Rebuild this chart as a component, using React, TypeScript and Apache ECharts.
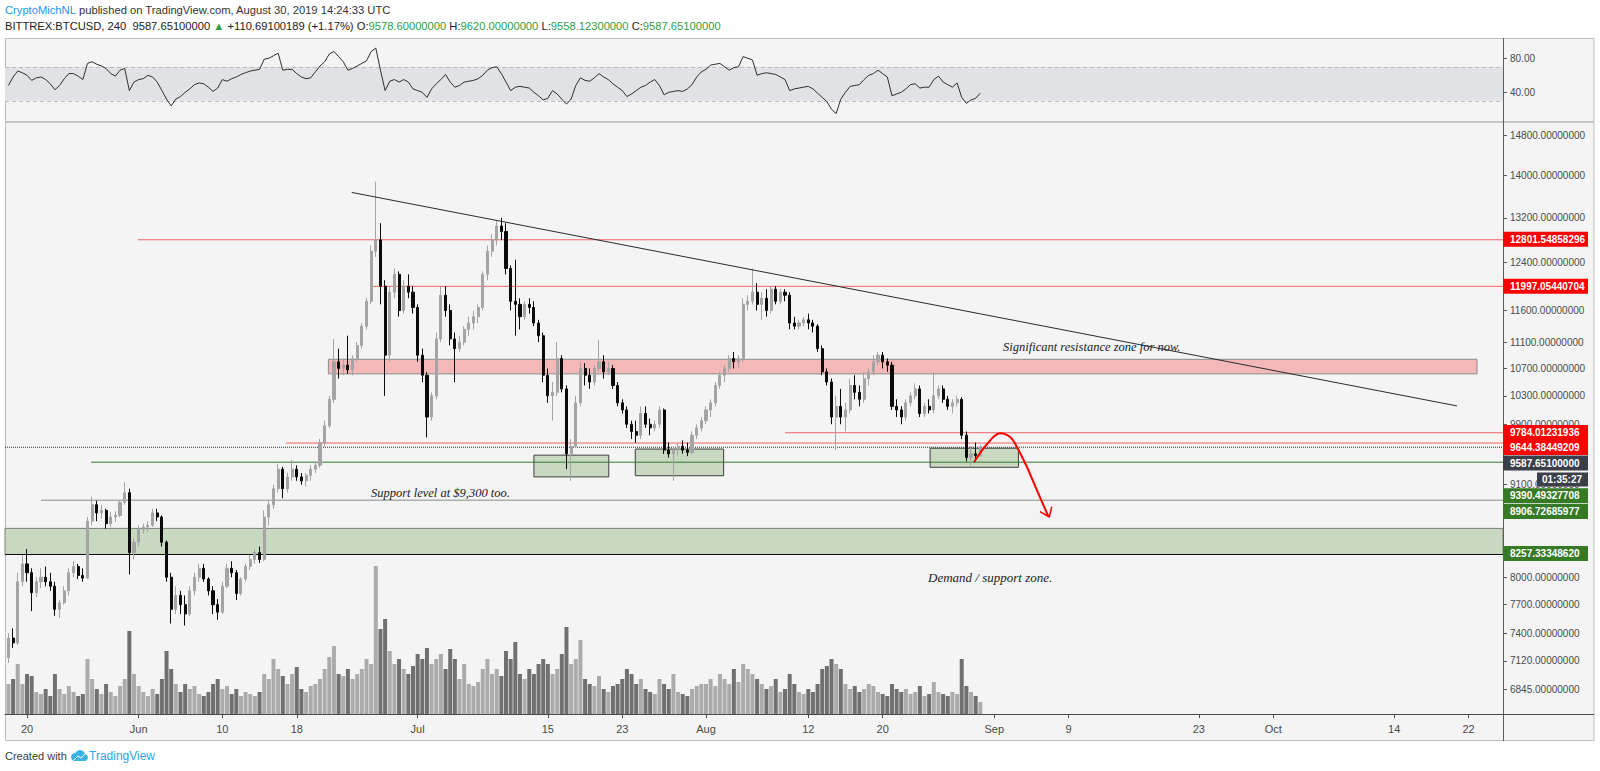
import React, { useEffect, useRef } from "react";
import * as echarts from "echarts";

// x values are days since 2019-05-20 00:00 UTC; candles are 12h apart
const candleStartDay = -2;
const candleStepDays = 0.5;

// [open, high, low, close]
const mayCandles: number[][] = [
  [7150, 7400, 7100, 7350], [7350, 7450, 7250, 7300], [7300, 8050, 7280, 7950], [7950, 8250, 7900, 8150],
  [8150, 8320, 7950, 8050], [8050, 8100, 7630, 7830], [7830, 8000, 7780, 7950], [7950, 8100, 7880, 8000],
  [8000, 8120, 7900, 7950], [7950, 8050, 7850, 7900], [7900, 7950, 7580, 7650], [7650, 7750, 7560, 7720],
  [7720, 7900, 7700, 7850], [7850, 8100, 7800, 8050], [8050, 8180, 8000, 8120], [8120, 8150, 7980, 8020],
  [8020, 8100, 7950, 7990], [7990, 8700, 7980, 8650], [8650, 8950, 8600, 8850], [8850, 8900, 8650, 8750],
  [8750, 8850, 8680, 8780], [8780, 8800, 8560, 8620], [8620, 8760, 8580, 8700], [8700, 8770, 8640, 8720],
  [8720, 8900, 8700, 8880], [8880, 9130, 8850, 9000], [9000, 9050, 8030, 8280], [8280, 8450, 8200, 8400],
];
const junCandles: number[][] = [
  [8400, 8600, 8350, 8550], [8550, 8620, 8500, 8580], [8580, 8650, 8520, 8600], [8600, 8800, 8580, 8750],
  [8750, 8800, 8650, 8700], [8700, 8720, 8350, 8400], [8400, 8420, 7950, 8000], [8000, 8050, 7500, 7650],
  [7650, 7900, 7600, 7800], [7800, 7850, 7600, 7700], [7700, 7800, 7480, 7600], [7600, 7900, 7580, 7850],
  [7850, 8050, 7800, 8000], [8000, 8150, 7950, 8100], [8100, 8150, 7950, 7980], [7980, 8000, 7800, 7850],
  [7850, 7900, 7600, 7700], [7700, 7760, 7540, 7620], [7620, 7950, 7600, 7900], [7900, 8150, 7880, 8100],
  [8100, 8180, 8000, 8050], [8050, 8080, 7750, 7820], [7820, 8000, 7800, 7980], [7980, 8150, 7950, 8120],
  [8120, 8250, 8080, 8200], [8200, 8320, 8150, 8280], [8280, 8350, 8160, 8200], [8200, 8780, 8180, 8700],
  [8700, 8900, 8600, 8850], [8850, 9100, 8800, 9050], [9050, 9370, 9000, 9300], [9300, 9330, 8930, 9050],
  [9050, 9250, 9000, 9200], [9200, 9420, 9150, 9300], [9300, 9350, 9150, 9200], [9200, 9250, 9100, 9150],
  [9150, 9250, 9080, 9220], [9220, 9350, 9150, 9300], [9300, 9400, 9250, 9350], [9350, 9700, 9320, 9650],
  [9650, 9950, 9600, 9880], [9880, 10300, 9850, 10250], [10250, 11150, 10200, 10800], [10800, 11000, 10550, 10700],
  [10700, 10850, 10600, 10750], [10750, 11200, 10620, 10680], [10680, 10900, 10600, 10850], [10850, 11100, 10800, 11050],
  [11050, 11400, 11000, 11350], [11350, 11800, 11300, 11750], [11750, 12700, 11700, 12600], [12600, 13880, 12500, 12800],
  [12800, 13100, 11700, 12000], [12000, 12100, 10300, 10900], [10900, 12000, 10800, 11900], [11900, 12300, 11800, 12200],
  [12200, 12250, 11500, 11600], [11600, 12100, 11550, 12000], [12000, 12200, 11800, 11900], [11900, 12000, 11550, 11650],
];
const julCandles: number[][] = [
  [11650, 11700, 10800, 10900], [10900, 11000, 10500, 10600], [10600, 10650, 9720, 10000], [10000, 10350, 9950, 10300],
  [10300, 11250, 10250, 11150], [11150, 12000, 11100, 11850], [11850, 12000, 11500, 11600], [11600, 11700, 11050, 11150],
  [11150, 11250, 10500, 11000], [11000, 11200, 10950, 11100], [11100, 11350, 11050, 11300], [11300, 11500, 11200, 11400],
  [11400, 11600, 11300, 11500], [11500, 11700, 11400, 11650], [11650, 12250, 11600, 12200], [12200, 12700, 12100, 12600],
  [12600, 12900, 12500, 12800], [12800, 13150, 12700, 13050], [13050, 13200, 12800, 12950], [12950, 13100, 12200, 12300],
  [12300, 12350, 11600, 11750], [11750, 12450, 11200, 11700], [11700, 11800, 11300, 11500], [11500, 11750, 11450, 11700],
  [11700, 11800, 11550, 11650], [11650, 11750, 11350, 11400], [11400, 11450, 11100, 11200], [11200, 11250, 10500, 10600],
  [10600, 10700, 10200, 10300], [10300, 10500, 9950, 10350], [10350, 11100, 10300, 10850], [10850, 10900, 10350, 10400],
  [10400, 10450, 9300, 9500], [9500, 9700, 9150, 9600], [9600, 10300, 9580, 10200], [10200, 10800, 10150, 10700],
  [10700, 10780, 10450, 10600], [10600, 10700, 10400, 10500], [10500, 10750, 10450, 10700], [10700, 11130, 10650, 10800],
  [10800, 10900, 10550, 10650], [10650, 10800, 10600, 10700], [10700, 10750, 10400, 10450], [10450, 10500, 10150, 10200],
  [10200, 10250, 10050, 10100], [10100, 10150, 9850, 9900], [9900, 9950, 9700, 9800], [9800, 9950, 9650, 9750],
  [9750, 10150, 9700, 10050], [10050, 10150, 9850, 9900], [9900, 9980, 9750, 9850], [9850, 9950, 9800, 9900],
  [9900, 10150, 9850, 10100], [10100, 10120, 9500, 9550], [9550, 9650, 9450, 9500], [9500, 9600, 9150, 9550],
  [9550, 9650, 9480, 9600], [9600, 9680, 9500, 9550], [9550, 9650, 9470, 9520], [9520, 9800, 9500, 9750],
  [9750, 9900, 9700, 9850], [9850, 10000, 9800, 9950],
];
const augCandles: number[][] = [
  [9950, 10150, 9900, 10100], [10100, 10250, 10000, 10200], [10200, 10500, 10150, 10450], [10450, 10650, 10400, 10600],
  [10600, 10750, 10500, 10700], [10700, 10900, 10650, 10850], [10850, 10950, 10700, 10800], [10800, 10900, 10700, 10850],
  [10850, 11800, 10800, 11700], [11700, 11850, 11600, 11750], [11750, 12300, 11700, 11900], [11900, 12050, 11600, 11700],
  [11700, 11900, 11450, 11800], [11800, 11950, 11500, 11600], [11600, 12000, 11550, 11950], [11950, 12000, 11700, 11750],
  [11750, 11950, 11700, 11900], [11900, 11950, 11750, 11850], [11850, 11900, 11300, 11400], [11400, 11500, 11300, 11350],
  [11350, 11450, 11300, 11400], [11400, 11500, 11350, 11450], [11450, 11550, 11300, 11400], [11400, 11450, 11250, 11350],
  [11350, 11380, 10950, 11000], [11000, 11050, 10600, 10650], [10650, 10700, 10450, 10500], [10500, 10550, 9900, 10000],
  [10000, 10300, 9550, 10150], [10150, 10400, 9900, 10000], [10000, 10200, 9800, 10100], [10100, 10550, 10050, 10450],
  [10450, 10600, 10250, 10350], [10350, 10450, 10150, 10250], [10250, 10650, 10200, 10550], [10550, 10700, 10450, 10650],
  [10650, 10900, 10600, 10800], [10800, 10950, 10750, 10900], [10900, 10950, 10700, 10800], [10800, 10850, 10650, 10750],
  [10750, 10800, 10100, 10150], [10150, 10250, 10000, 10100], [10100, 10150, 9900, 10000], [10000, 10250, 9950, 10200],
  [10200, 10350, 10150, 10300], [10300, 10480, 10250, 10400], [10400, 10450, 10000, 10050], [10050, 10200, 10000, 10150],
  [10150, 10250, 10050, 10100], [10100, 10650, 10050, 10300], [10300, 10450, 10250, 10400], [10400, 10450, 10200, 10250],
  [10250, 10300, 10100, 10150], [10150, 10250, 10050, 10200], [10200, 10300, 10150, 10250], [10250, 10280, 9700, 9750],
  [9750, 9800, 9400, 9450], [9450, 9600, 9330, 9500], [9500, 9650, 9400, 9480], [9480, 9620, 9460, 9587.651],
];

const mayVolume = [30, 35, 50, 30, 40, 38, 22, 20, 25, 18, 40, 25, 20, 28, 22, 18, 20, 55, 35, 25, 20, 30, 22, 18, 28, 35, 83, 40];
const junVolume = [
  28, 22, 18, 25, 20, 35, 63, 45, 30, 22, 30, 25, 28, 20, 18, 22, 30, 35, 25, 28,
  20, 25, 18, 22, 20, 18, 22, 40, 35, 55, 45, 38, 30, 40, 47, 25, 22, 28, 30, 35,
  45, 57, 68, 40, 38, 45, 35, 40, 45, 55, 50, 148, 85, 95, 63, 50, 55, 45, 40, 48,
];
const julVolume = [
  60, 55, 66, 50, 55, 60, 45, 65, 55, 35, 50, 30, 28, 32, 45, 55, 40, 45, 38, 63,
  55, 72, 40, 35, 45, 40, 50, 55, 50, 40, 45, 60, 87, 50, 55, 74, 35, 30, 28, 38,
  25, 22, 28, 30, 35, 45, 40, 30, 35, 25, 22, 20, 35, 30, 25, 40, 22, 20, 18, 25, 28, 30,
];
const augVolume = [
  30, 35, 28, 40, 35, 30, 45, 32, 50, 45, 40, 35, 30, 25, 28, 35, 22, 25, 40, 30,
  22, 20, 25, 22, 30, 45, 48, 55, 50, 45, 30, 25, 28, 22, 25, 30, 28, 22, 20, 18,
  30, 25, 22, 25, 20, 22, 28, 18, 20, 32, 22, 20, 18, 22, 20, 55, 28, 22, 18, 12,
];

const mayRsi = [48, 58, 65, 63, 60, 54, 57, 58, 55, 50, 43, 48, 56, 62, 62, 59, 55, 74, 76, 73, 71, 68, 62, 59, 66, 68, 42, 52];
const junRsi = [
  55, 56, 60, 58, 52, 42, 32, 24, 32, 35, 40, 44, 49, 51, 50, 46, 41, 45, 55, 53,
  56, 58, 61, 63, 65, 66, 67, 79, 80, 83, 86, 66, 67, 67, 62, 58, 56, 57, 64, 71,
  76, 85, 88, 82, 76, 66, 68, 71, 74, 77, 88, 92, 66, 42, 53, 55, 52, 55, 52, 44,
];
const julRsi = [
  42, 40, 34, 44, 50, 55, 61, 52, 46, 48, 52, 53, 54, 56, 60, 66, 69, 70, 62, 52,
  42, 46, 47, 46, 45, 40, 36, 31, 33, 42, 38, 32, 26, 32, 48, 57, 54, 53, 57, 62,
  58, 55, 50, 46, 42, 35, 38, 42, 46, 48, 52, 55, 48, 37, 40, 41, 42, 41, 44, 49, 58, 64,
];
const augRsi = [
  67, 72, 73, 74, 70, 66, 69, 70, 82, 80, 78, 60, 62, 63, 62, 61, 58, 55, 42, 44,
  45, 46, 47, 44, 39, 34, 29, 20, 15, 32, 40, 47, 48, 49, 55, 60, 62, 66, 62, 58,
  36, 38, 40, 44, 49, 50, 45, 46, 46, 55, 59, 52, 49, 46, 51, 34, 27, 31, 33, 39,
];

const xTickDays = [0, 12, 21, 29, 42, 56, 64, 73, 84, 92, 104, 112, 126, 134, 147, 155];
const xTickLabels = ["20", "Jun", "10", "18", "Jul", "15", "23", "Aug", "12", "20", "Sep", "9", "23", "Oct", "14", "22"];
const priceTicks = [14800, 14000, 13200, 12400, 11600, 11100, 10700, 10300, 9900, 9100, 8000, 7700, 7400, 7120, 6845];
const rsiTicks = [40, 80];
const rsiBand = [30, 70];

// horizontal levels drawn by the author: price, first day
const redLevelPrices = [12801.54858296, 11997.05440704, 9784.01231936, 9644.38449209];
const redLevelStartDays = [11.94, 37.1, 81.5, 27.85];
const greenLevelPrice = 9390.49327708;
const greenLevelStartDay = 6.9;
const grayLevelPrice = 8906.72685977;
const grayLevelStartDay = 1.5;
const lastPrice = 9587.651;
const demandZone = { top: 8563, bottom: 8257.3334862 };
const resistanceZone = { top: 10838, bottom: 10620, fromDay: 32.4, toDay: 155.9 };
const supportBoxes = [
  { fromDay: 54.5, toDay: 62.55, top: 9483, bottom: 9200 },
  { fromDay: 65.4, toDay: 74.9, top: 9564, bottom: 9215 },
  { fromDay: 97.1, toDay: 106.6, top: 9575, bottom: 9324 },
];
const trendLine = [[34.91, 13674], [153.76, 10156]];
const projectionPath = [
  [101.83, 9393], [103.23, 9632], [104.62, 9776], [105.7, 9726], [106.42, 9595], [107.5, 9331], [108.57, 9034], [109.8, 8712],
];
const projectionHead = [[108.92, 8765], [109.92, 8700], [110.18, 8826]];

const headerLine1 = "{blue|CryptoMichNL}{dark| published on TradingView.com, August 30, 2019 14:24:33 UTC}";
const headerLine2 =
  "{dark|BITTREX:BTCUSD, 240  9587.65100000 }{green|▲}{dark| +110.69100189 (+1.17%) O:}{green|9578.60000000}{dark| H:}{green|9620.00000000}{dark| L:}{green|9558.12300000}{dark| C:}{green|9587.65100000}";

const axisBadges = [
  { text: "12801.54858296", color: "#ff0000", y: 231.7 },
  { text: "11997.05440704", color: "#ff0000", y: 278.7 },
  { text: "9784.01231936", color: "#ff0000", y: 425 },
  { text: "9644.38449209", color: "#ff0000", y: 440 },
  { text: "9587.65100000", color: "#3b3f4a", y: 455.5 },
  { text: "9390.49327708", color: "#367a25", y: 488.3 },
  { text: "8906.72685977", color: "#367a25", y: 504 },
  { text: "8257.33348620", color: "#367a25", y: 546 },
];
const countdownText = "01:35:27";

const X_MIN = -2.37;
const X_MAX = 158.7;
const P_MIN = 6612;
const P_MAX = 15084;
const RSI_MIN = 5.06;
const RSI_MAX = 102.7;
const VOL_MAX = 592;

const SANS = '"Liberation Sans", Arial, sans-serif';
const SERIF = '"Liberation Serif", "Times New Roman", serif';

export default function App() {
  const ref = useRef<HTMLDivElement>(null);

  useEffect(() => {
    if (!ref.current) return;
    const chart = echarts.init(ref.current, null, { renderer: "svg" });
    const L = Math.log;

    const candles = [...mayCandles, ...junCandles, ...julCandles, ...augCandles];
    const volumes = [...mayVolume, ...junVolume, ...julVolume, ...augVolume];
    const rsis = [...mayRsi, ...junRsi, ...julRsi, ...augRsi];
    const dayOf = (i: number) => candleStartDay + i * candleStepDays;

    const candleData = candles.map(([o, h, l, c], i) => [dayOf(i), L(o), L(c), L(l), L(h)]);
    const volumeData = volumes.map((v, i) => {
      const [o, , , c] = candles[i];
      return { value: [dayOf(i), v], itemStyle: { color: c >= o ? "#ababab" : "#707070" } };
    });
    const rsiData = rsis.map((v, i) => [dayOf(i), v]);

    const hLine = (price: number, from: number, color: string, width: number, type: string = "solid", z = 3) => ({
      type: "line",
      xAxisIndex: 1,
      yAxisIndex: 0,
      data: [[from, L(price)], [X_MAX, L(price)]],
      symbol: "none",
      silent: true,
      z,
      lineStyle: { color, width, type },
    });

    const zoneItem = (x0: number, x1: number, top: number, bottom: number, fill: string, border: string) => [
      { coord: [x0, L(top)], itemStyle: { color: fill, borderColor: border, borderWidth: 1 } },
      { coord: [x1, L(bottom)] },
    ];

    const series: any[] = [
      {
        type: "line",
        xAxisIndex: 1,
        yAxisIndex: 0,
        data: [],
        z: 1,
        silent: true,
        markArea: {
          silent: true,
          label: { show: false },
          data: [
            zoneItem(resistanceZone.fromDay, resistanceZone.toDay, resistanceZone.top, resistanceZone.bottom, "#f5b8b8", "#8a8a8a"),
            zoneItem(X_MIN, X_MAX, demandZone.top, demandZone.bottom, "#c9d8c1", "#7d7d7d"),
            ...supportBoxes.map((b) => zoneItem(b.fromDay, b.toDay, b.top, b.bottom, "#c9d8c1", "#3e3e3e")),
          ],
        },
      },
      {
        type: "bar",
        xAxisIndex: 1,
        yAxisIndex: 1,
        data: volumeData,
        barWidth: 4,
        silent: true,
        z: 2,
      },
      ...redLevelPrices.map((p, i) => hLine(p, redLevelStartDays[i], "#f06464", 1)),
      hLine(greenLevelPrice, greenLevelStartDay, "#2f7a2a", 1),
      hLine(grayLevelPrice, grayLevelStartDay, "#a9b0a8", 1.5),
      hLine(demandZone.bottom, X_MIN, "#111111", 1),
      hLine(lastPrice, X_MIN, "#333333", 1, "dotted", 4),
      {
        type: "candlestick",
        xAxisIndex: 1,
        yAxisIndex: 0,
        data: candleData,
        encode: { x: 0, y: [1, 2, 3, 4] },
        barWidth: 2.6,
        silent: true,
        z: 5,
        itemStyle: {
          color: "#a4a4a4",
          color0: "#0a0a0a",
          borderColor: "#a4a4a4",
          borderColor0: "#0a0a0a",
          borderWidth: 1,
        },
      },
      {
        type: "line",
        xAxisIndex: 1,
        yAxisIndex: 0,
        data: trendLine.map(([d, p]) => [d, L(p)]),
        symbol: "none",
        silent: true,
        z: 6,
        lineStyle: { color: "#2a2a2a", width: 1 },
      },
      {
        type: "line",
        xAxisIndex: 1,
        yAxisIndex: 0,
        data: projectionPath.map(([d, p]) => [d, L(p)]),
        smooth: 0.35,
        symbol: "none",
        silent: true,
        z: 7,
        lineStyle: { color: "#ff0000", width: 2 },
      },
      {
        type: "line",
        xAxisIndex: 1,
        yAxisIndex: 0,
        data: projectionHead.map(([d, p]) => [d, L(p)]),
        symbol: "none",
        silent: true,
        z: 7,
        lineStyle: { color: "#ff0000", width: 1.5 },
      },
      {
        type: "line",
        xAxisIndex: 0,
        yAxisIndex: 2,
        data: rsiData,
        symbol: "none",
        silent: true,
        z: 5,
        lineStyle: { color: "#2e2e2e", width: 1 },
        markArea: {
          silent: true,
          label: { show: false },
          itemStyle: { color: "#e1e2e5" },
          data: [[{ yAxis: rsiBand[0] }, { yAxis: rsiBand[1] }]],
        },
        markLine: {
          silent: true,
          symbol: ["none", "none"],
          label: { show: false },
          lineStyle: { color: "#bdbdbd", type: [4, 3], width: 1 },
          data: rsiBand.map((v) => ({ yAxis: v })),
        },
      },
    ];

    const badgeEls: any[] = [];
    axisBadges.forEach((b) => {
      badgeEls.push({
        type: "rect",
        z: 60,
        shape: { x: 1503, y: b.y, width: 85, height: 15 },
        style: { fill: b.color },
      });
      badgeEls.push({
        type: "text",
        z: 61,
        x: 1510,
        y: b.y + 7.5,
        style: {
          text: b.text,
          fill: "#ffffff",
          font: `bold 10px ${SANS}`,
          verticalAlign: "middle",
          align: "left",
        },
      });
    });
    badgeEls.push({
      type: "rect",
      z: 60,
      shape: { x: 1537, y: 472.5, width: 51, height: 14 },
      style: { fill: "#3b3f4a" },
    });
    badgeEls.push({
      type: "text",
      z: 61,
      x: 1562,
      y: 479.5,
      style: { text: countdownText, fill: "#ffffff", font: `bold 10px ${SANS}`, verticalAlign: "middle", align: "center" },
    });

    const graphic: any[] = [
      {
        type: "rect",
        z: -100,
        shape: { x: 5.5, y: 38.5, width: 1588.5, height: 702 },
        style: { fill: "#f4f4f4", stroke: "#bcbcbc", lineWidth: 1 },
      },
      { type: "line", z: 40, shape: { x1: 5, y1: 122, x2: 1594, y2: 122 }, style: { stroke: "#c4c4c4", lineWidth: 2 } },
      { type: "line", z: 40, shape: { x1: 1503.5, y1: 38, x2: 1503.5, y2: 741 }, style: { stroke: "#5c5c5c", lineWidth: 1 } },
      { type: "line", z: 40, shape: { x1: 1503, y1: 714.5, x2: 1594, y2: 714.5 }, style: { stroke: "#4a4a4a", lineWidth: 1 } },
      {
        type: "text",
        x: 5,
        y: 10,
        style: {
          text: headerLine1,
          verticalAlign: "middle",
          rich: {
            blue: { fill: "#2196f3", font: `11.2px ${SANS}` },
            dark: { fill: "#333333", font: `11.2px ${SANS}` },
          },
        },
      },
      {
        type: "text",
        x: 5,
        y: 25.5,
        style: {
          text: headerLine2,
          verticalAlign: "middle",
          rich: {
            green: { fill: "#2f9e44", font: `11.2px ${SANS}` },
            dark: { fill: "#222222", font: `11.2px ${SANS}` },
          },
        },
      },
      {
        type: "text",
        x: 5,
        y: 756,
        style: { text: "Created with", fill: "#3c3c3c", font: `11px ${SANS}`, verticalAlign: "middle" },
      },
      {
        type: "group",
        x: 70,
        y: 750,
        children: [
          { type: "circle", shape: { cx: 5, cy: 7, r: 4 }, style: { fill: "#3bb3e4" } },
          { type: "circle", shape: { cx: 10, cy: 5, r: 5 }, style: { fill: "#3bb3e4" } },
          { type: "circle", shape: { cx: 14.5, cy: 7.5, r: 3.5 }, style: { fill: "#3bb3e4" } },
          { type: "rect", shape: { x: 5, y: 7, width: 10, height: 4 }, style: { fill: "#3bb3e4" } },
          { type: "polyline", shape: { points: [[4, 10], [8, 6], [11, 8], [15, 4]] }, style: { stroke: "#ffffff", lineWidth: 1, fill: null } },
        ],
      },
      {
        type: "text",
        x: 89,
        y: 756,
        style: { text: "TradingView", fill: "#2fa4e7", font: `12px ${SANS}`, verticalAlign: "middle" },
      },
      {
        type: "text",
        z: 50,
        x: 1003,
        y: 347,
        style: { text: "Significant resistance zone for now.", fill: "#222222", font: `italic 12.5px ${SERIF}`, verticalAlign: "middle" },
      },
      {
        type: "text",
        z: 50,
        x: 371,
        y: 493,
        style: { text: "Support level at $9,300 too.", fill: "#222222", font: `italic 12.5px ${SERIF}`, verticalAlign: "middle" },
      },
      {
        type: "text",
        z: 50,
        x: 928,
        y: 577,
        style: { text: "Demand / support zone.", fill: "#222222", font: `italic 13px ${SERIF}`, verticalAlign: "middle" },
      },
      ...badgeEls,
    ];

    const option: any = {
      animation: false,
      backgroundColor: "#ffffff",
      grid: [
        { left: 5, right: 97, top: 39, height: 83, outerBoundsMode: "none" },
        { left: 5, right: 97, top: 122, height: 592, outerBoundsMode: "none" },
      ],
      xAxis: [
        { type: "value", gridIndex: 0, min: X_MIN, max: X_MAX, show: false, axisLine: { onZero: false } },
        {
          type: "value",
          gridIndex: 1,
          min: X_MIN,
          max: X_MAX,
          splitLine: { show: false },
          axisLine: { show: true, onZero: false, lineStyle: { color: "#4a4a4a", width: 1 } },
          axisTick: { show: true, customValues: xTickDays, length: 4, lineStyle: { color: "#4a4a4a" } },
          axisLabel: {
            customValues: xTickDays,
            formatter: (v: number) => {
              const k = xTickDays.indexOf(Math.round(v));
              return k >= 0 ? xTickLabels[k] : "";
            },
            color: "#4a4a4a",
            fontSize: 11,
            fontFamily: SANS,
            margin: 9,
          },
        },
      ],
      yAxis: [
        {
          type: "value",
          gridIndex: 1,
          position: "right",
          min: L(P_MIN),
          max: L(P_MAX),
          splitLine: { show: false },
          axisLine: { show: false, onZero: false },
          axisTick: { show: true, customValues: priceTicks.map(L), length: 4, lineStyle: { color: "#5c5c5c" } },
          axisLabel: {
            customValues: priceTicks.map(L),
            formatter: (v: number) => Math.round(Math.exp(v)).toFixed(8),
            color: "#4a4a4a",
            fontSize: 10,
            fontFamily: SANS,
            margin: 7,
          },
        },
        { type: "value", gridIndex: 1, min: 0, max: VOL_MAX, show: false, axisLine: { onZero: false } },
        {
          type: "value",
          gridIndex: 0,
          position: "right",
          min: RSI_MIN,
          max: RSI_MAX,
          splitLine: { show: false },
          axisLine: { show: false, onZero: false },
          axisTick: { show: true, customValues: rsiTicks, length: 4, lineStyle: { color: "#5c5c5c" } },
          axisLabel: {
            customValues: rsiTicks,
            formatter: (v: number) => v.toFixed(2),
            color: "#4a4a4a",
            fontSize: 10,
            fontFamily: SANS,
            margin: 7,
          },
        },
      ],
      series,
      graphic,
    };

    chart.setOption(option);
    return () => chart.dispose();
  }, []);

  return (
    <div
      ref={ref}
      style={{ position: "fixed", left: 0, top: 0, width: 1600, height: 771, background: "#ffffff" }}
    />
  );
}
